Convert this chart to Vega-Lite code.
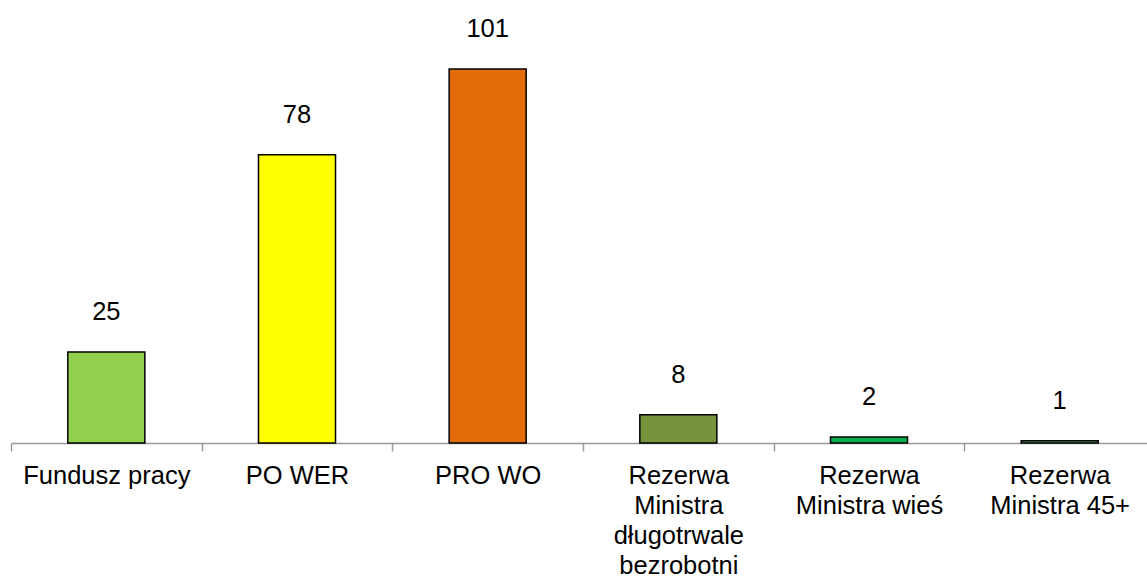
{
  "$schema": "https://vega.github.io/schema/vega-lite/v6.json",
  "autosize": {"type": "none"},
  "width": 1136,
  "height": 443,
  "padding": {"left": 11, "top": 0, "right": 0, "bottom": 136},
  "background": "white",
  "config": {"view": {"stroke": null}, "font": "Liberation Sans"},
  "data": {
    "values": [
      {"kat": "Fundusz pracy", "val": 24.6, "kolor": "#92D050"},
      {"kat": "PO WER", "val": 77.8, "kolor": "#FFFF00"},
      {"kat": "PRO WO", "val": 101, "kolor": "#E36C0A"},
      {"kat": "Rezerwa|Ministra|długotrwale|bezrobotni", "val": 7.6, "kolor": "#77933C"},
      {"kat": "Rezerwa|Ministra wieś", "val": 1.6, "kolor": "#00B050"},
      {"kat": "Rezerwa|Ministra 45+", "val": 0.6, "kolor": "#4BAC4B"}
    ]
  },
  "encoding": {
    "x": {
      "field": "kat",
      "type": "nominal",
      "sort": null,
      "scale": {"range": [0, 1144], "paddingInner": 0, "paddingOuter": 0},
      "axis": {
        "title": null,
        "labelAngle": 0,
        "labelExpr": "split(datum.label, '|')",
        "labelFontSize": 25.5,
        "labelLineHeight": 30,
        "labelColor": "#000000",
        "labelBaseline": "top",
        "labelPadding": 12,
        "labelLimit": 300,
        "bandPosition": 0,
        "tickBand": "extent",
        "ticks": true,
        "tickSize": 8,
        "tickColor": "#999999",
        "domainColor": "#999999",
        "domainWidth": 1.5,
        "tickWidth": 1.5,
        "grid": false
      }
    },
    "y": {
      "field": "val",
      "type": "quantitative",
      "scale": {"domain": [0, 119.6]},
      "axis": null
    }
  },
  "layer": [
    {
      "mark": {"type": "bar", "width": {"band": 0.404}, "stroke": "#000000", "strokeWidth": 1.5},
      "encoding": {
        "color": {"field": "kolor", "type": "nominal", "scale": null, "legend": null}
      }
    },
    {
      "mark": {"type": "text", "fontSize": 25.5, "baseline": "middle", "dy": -40, "color": "#000000"},
      "encoding": {
        "text": {"field": "val", "type": "quantitative", "format": ".0f"}
      }
    }
  ]
}
